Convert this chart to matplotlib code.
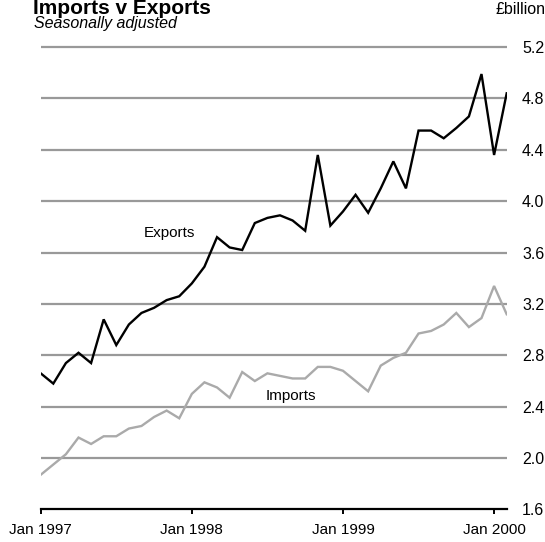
import matplotlib
matplotlib.use("Agg")
import matplotlib.pyplot as plt

plt.rcParams['font.family'] = ['Liberation Sans', 'DejaVu Sans']

# Monthly data, Jan 1997 .. Feb 2000 (£billion, seasonally adjusted)
months = [f"{m} {y}" for y in (1997, 1998, 1999) for m in
          ["Jan", "Feb", "Mar", "Apr", "May", "Jun", "Jul", "Aug", "Sep", "Oct", "Nov", "Dec"]] + ["Jan 2000", "Feb 2000"]

exports = [2.66, 2.58, 2.74, 2.82, 2.74, 3.08, 2.88, 3.04, 3.13, 3.17, 3.23, 3.26,
           3.36, 3.49, 3.72, 3.64, 3.62, 3.83, 3.87, 3.89, 3.85, 3.77, 4.36, 3.81,
           3.92, 4.05, 3.91, 4.10, 4.31, 4.10, 4.55, 4.55, 4.49, 4.57, 4.66, 4.99,
           4.36, 4.84]

imports = [1.87, 1.95, 2.03, 2.16, 2.11, 2.17, 2.17, 2.23, 2.25, 2.32, 2.37, 2.31,
           2.50, 2.59, 2.55, 2.47, 2.67, 2.60, 2.66, 2.64, 2.62, 2.62, 2.71, 2.71,
           2.68, 2.60, 2.52, 2.72, 2.78, 2.82, 2.97, 2.99, 3.04, 3.13, 3.02, 3.09,
           3.34, 3.12]

xtick_labels = ["Jan 1997", "Jan 1998", "Jan 1999", "Jan 2000"]
yticks = [1.6, 2.0, 2.4, 2.8, 3.2, 3.6, 4.0, 4.4, 4.8, 5.2]

x = list(range(len(months)))
xtick_pos = [months.index(lbl) for lbl in xtick_labels]

fig = plt.figure(figsize=(5.45, 5.42), dpi=100)
ax = fig.add_axes([0.0747, 0.0600, 0.9297 - 0.0747, 0.925 - 0.0600])

for yv in yticks[1:]:
    ax.axhline(yv, color='#999999', lw=1.6, zorder=1)

ax.plot(x, imports, color='#aaaaaa', lw=1.7, zorder=3, solid_joinstyle='miter')
ax.plot(x, exports, color='black', lw=1.7, zorder=4, solid_joinstyle='miter')

ax.set_xlim(0, len(months) - 1)
ax.set_ylim(1.6, 5.25)

for s in ['top', 'left', 'right']:
    ax.spines[s].set_visible(False)
ax.spines['bottom'].set_linewidth(1.6)
ax.spines['bottom'].set_color('black')

ax.set_xticks(xtick_pos)
ax.set_xticklabels(xtick_labels, fontsize=11)
ax.tick_params(axis='x', direction='out', length=3.5, width=1.4, pad=6)

ax.yaxis.tick_right()
ax.set_yticks(yticks)
ax.set_yticklabels([f"{v:.1f}" for v in yticks], fontsize=11.5)
ax.tick_params(axis='y', length=0, pad=11)

ax.text(8.15, 3.72, "Exports", fontsize=11, ha='left', va='baseline', zorder=5)
ax.text(17.86, 2.452, "Imports", fontsize=11, ha='left', va='baseline', zorder=5)

fig.text(33 / 545, 1 - 13.5 / 542, "Imports v Exports", fontsize=15, fontweight='bold',
         ha='left', va='baseline')
fig.text(34 / 545, 1 - 28 / 542, "Seasonally adjusted", fontsize=11.5, style='italic',
         ha='left', va='baseline')
fig.text(545 / 545, 1 - 14.5 / 542, "£billion", fontsize=11.5, ha='right', va='baseline')

fig.savefig("out.png", dpi=100)
